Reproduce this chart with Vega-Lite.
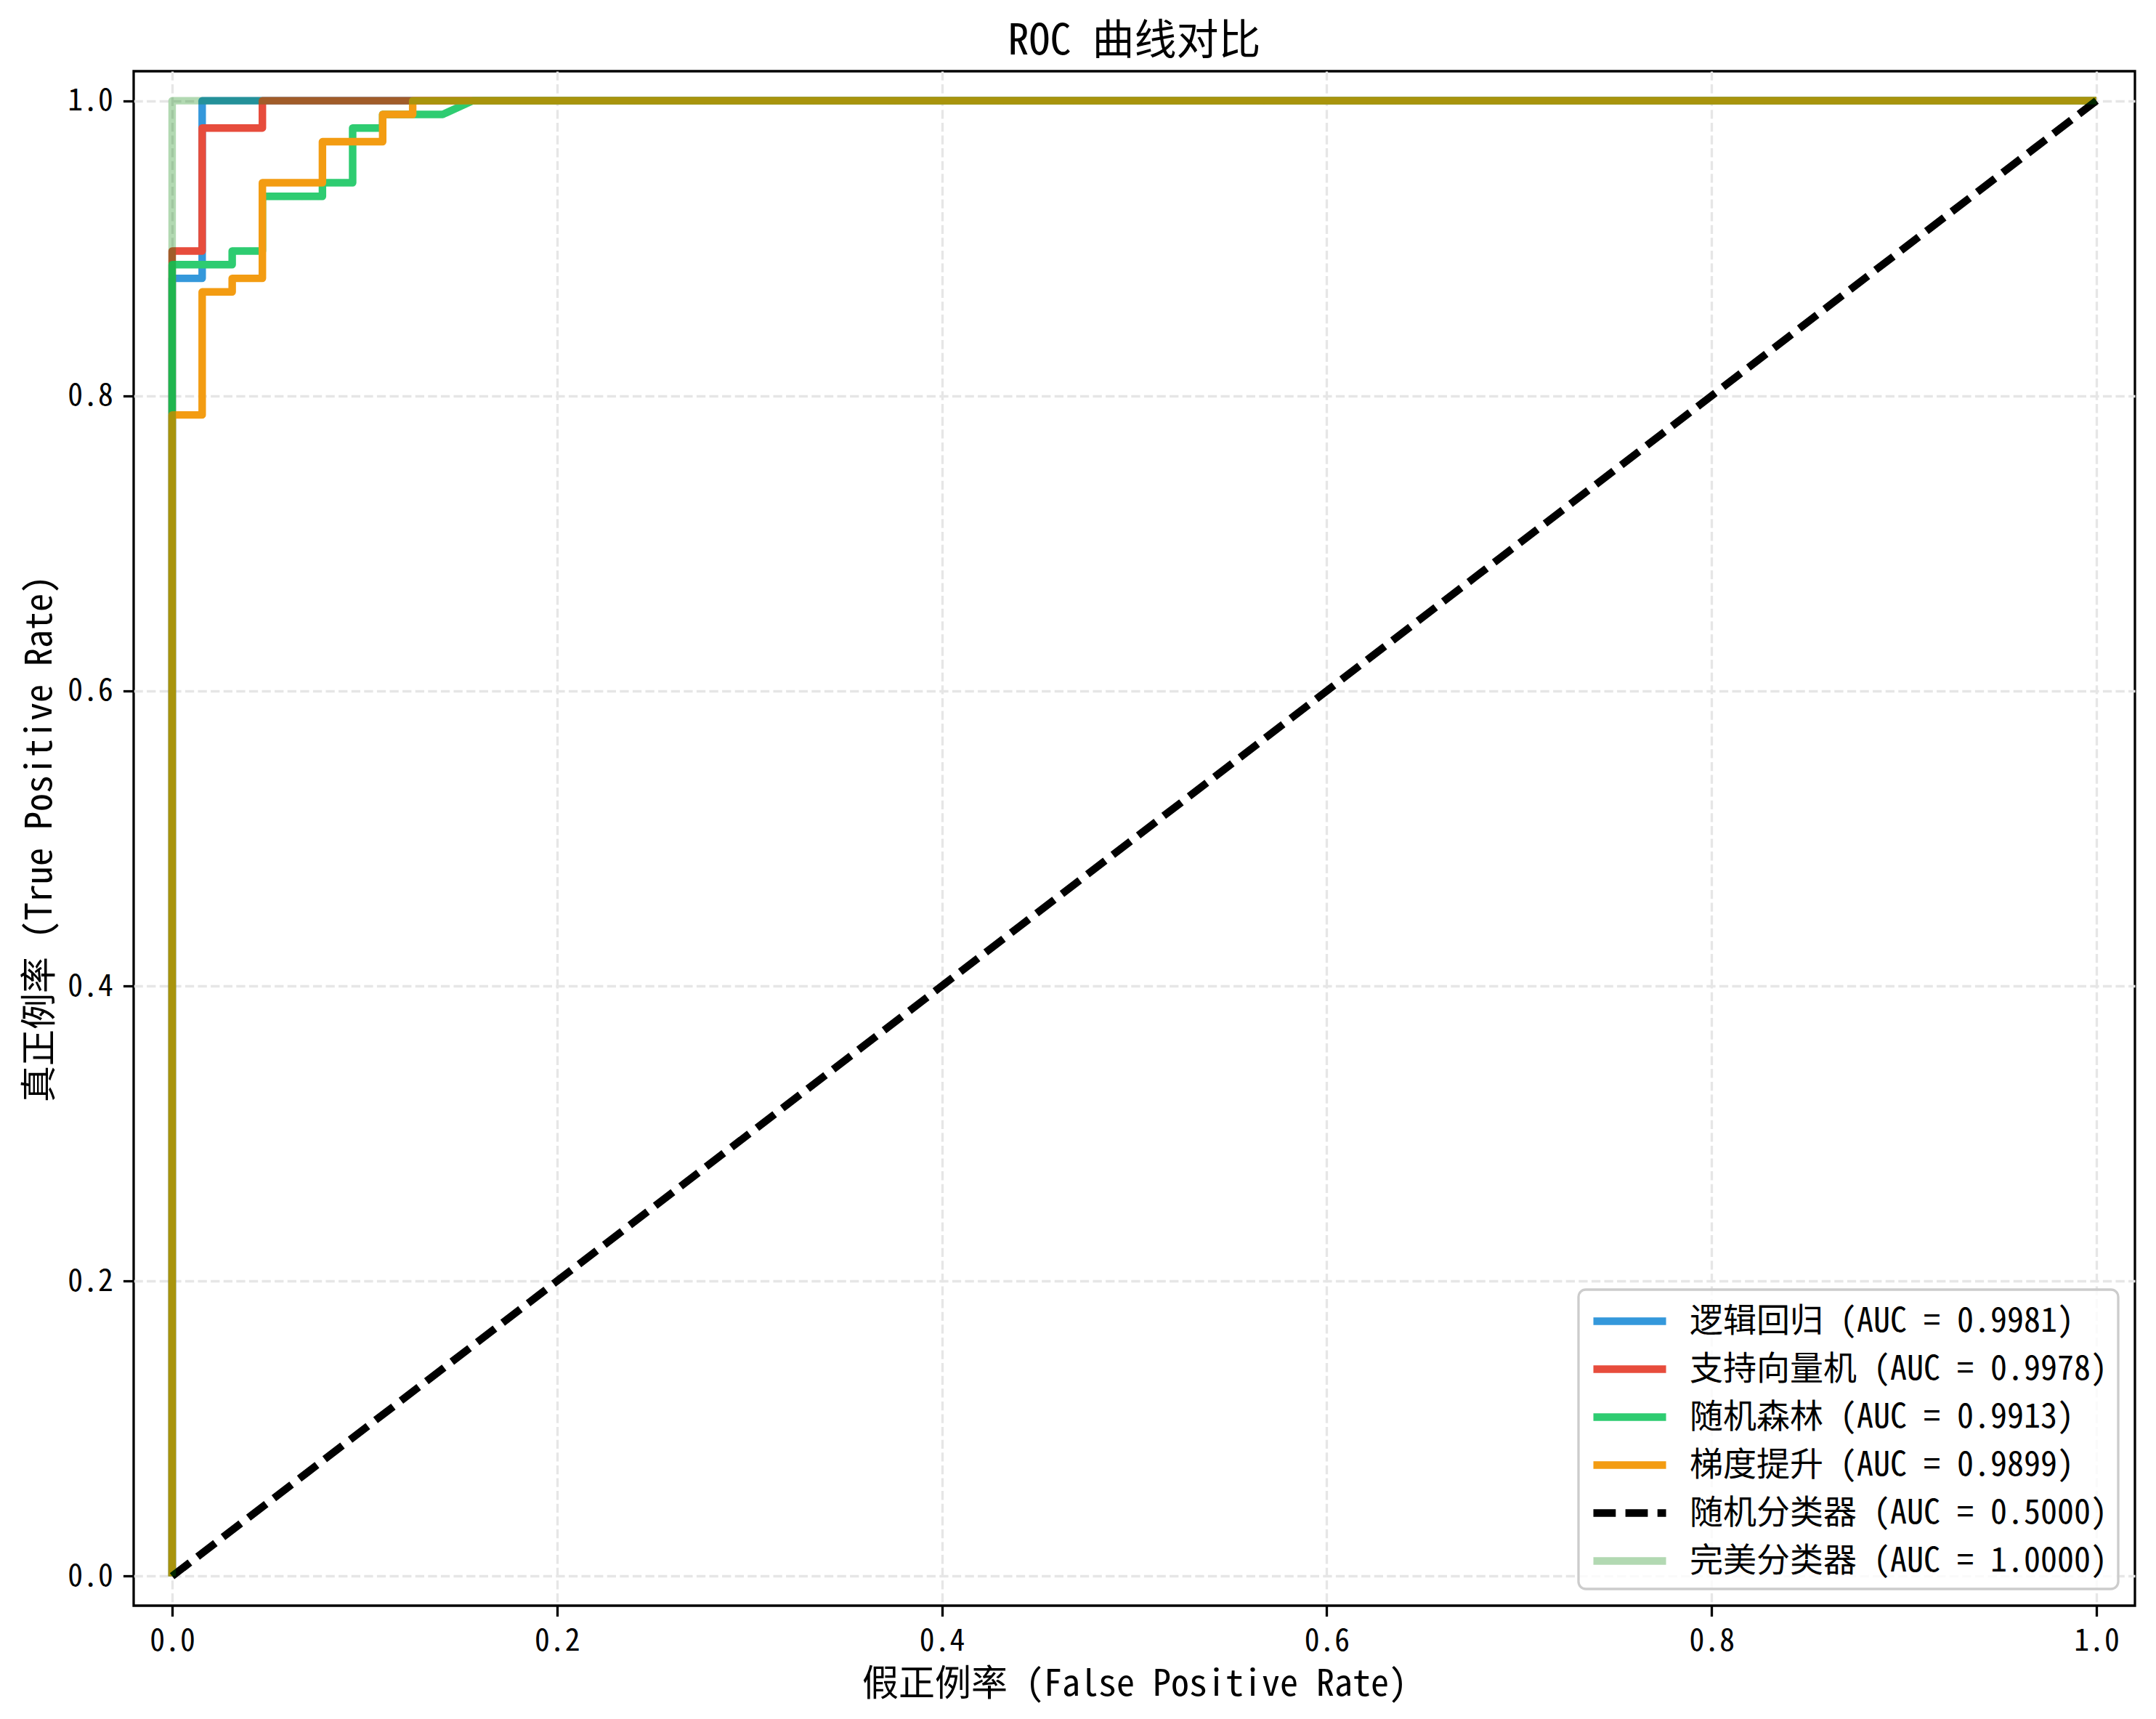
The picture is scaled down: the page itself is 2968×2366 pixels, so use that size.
{
  "$schema": "https://vega.github.io/schema/vega-lite/v6.json",
  "autosize": {"type": "none"},
  "padding": {"left": 184, "top": 98, "right": 29, "bottom": 156},
  "width": 2755,
  "height": 2112,
  "background": "white",
  "title": {
    "text": "ROC 曲线对比",
    "fontSize": 58,
    "fontWeight": "normal",
    "font": "Noto Sans Mono CJK SC, DejaVu Sans Mono, Noto Sans CJK SC",
    "color": "black",
    "anchor": "middle",
    "offset": 11
  },
  "data": {
    "values": [
      {"model": "逻辑回归 (AUC = 0.9981)", "i": 0, "fpr": 0, "tpr": 0},
      {"model": "逻辑回归 (AUC = 0.9981)", "i": 1, "fpr": 0, "tpr": 0.8796},
      {"model": "逻辑回归 (AUC = 0.9981)", "i": 2, "fpr": 0.0156, "tpr": 0.8796},
      {"model": "逻辑回归 (AUC = 0.9981)", "i": 3, "fpr": 0.0156, "tpr": 1},
      {"model": "逻辑回归 (AUC = 0.9981)", "i": 4, "fpr": 1, "tpr": 1},

      {"model": "支持向量机 (AUC = 0.9978)", "i": 0, "fpr": 0, "tpr": 0},
      {"model": "支持向量机 (AUC = 0.9978)", "i": 1, "fpr": 0, "tpr": 0.8981},
      {"model": "支持向量机 (AUC = 0.9978)", "i": 2, "fpr": 0.0156, "tpr": 0.8981},
      {"model": "支持向量机 (AUC = 0.9978)", "i": 3, "fpr": 0.0156, "tpr": 0.9815},
      {"model": "支持向量机 (AUC = 0.9978)", "i": 4, "fpr": 0.0469, "tpr": 0.9815},
      {"model": "支持向量机 (AUC = 0.9978)", "i": 5, "fpr": 0.0469, "tpr": 1},
      {"model": "支持向量机 (AUC = 0.9978)", "i": 6, "fpr": 1, "tpr": 1},

      {"model": "随机森林 (AUC = 0.9913)", "i": 0, "fpr": 0, "tpr": 0},
      {"model": "随机森林 (AUC = 0.9913)", "i": 1, "fpr": 0, "tpr": 0.8889},
      {"model": "随机森林 (AUC = 0.9913)", "i": 2, "fpr": 0.0312, "tpr": 0.8889},
      {"model": "随机森林 (AUC = 0.9913)", "i": 3, "fpr": 0.0312, "tpr": 0.8981},
      {"model": "随机森林 (AUC = 0.9913)", "i": 4, "fpr": 0.0469, "tpr": 0.8981},
      {"model": "随机森林 (AUC = 0.9913)", "i": 5, "fpr": 0.0469, "tpr": 0.9352},
      {"model": "随机森林 (AUC = 0.9913)", "i": 6, "fpr": 0.0781, "tpr": 0.9352},
      {"model": "随机森林 (AUC = 0.9913)", "i": 7, "fpr": 0.0781, "tpr": 0.9444},
      {"model": "随机森林 (AUC = 0.9913)", "i": 8, "fpr": 0.0938, "tpr": 0.9444},
      {"model": "随机森林 (AUC = 0.9913)", "i": 9, "fpr": 0.0938, "tpr": 0.9815},
      {"model": "随机森林 (AUC = 0.9913)", "i": 10, "fpr": 0.1094, "tpr": 0.9815},
      {"model": "随机森林 (AUC = 0.9913)", "i": 11, "fpr": 0.1094, "tpr": 0.9907},
      {"model": "随机森林 (AUC = 0.9913)", "i": 12, "fpr": 0.1406, "tpr": 0.9907},
      {"model": "随机森林 (AUC = 0.9913)", "i": 13, "fpr": 0.1562, "tpr": 1},
      {"model": "随机森林 (AUC = 0.9913)", "i": 14, "fpr": 1, "tpr": 1},

      {"model": "梯度提升 (AUC = 0.9899)", "i": 0, "fpr": 0, "tpr": 0},
      {"model": "梯度提升 (AUC = 0.9899)", "i": 1, "fpr": 0, "tpr": 0.787},
      {"model": "梯度提升 (AUC = 0.9899)", "i": 2, "fpr": 0.0156, "tpr": 0.787},
      {"model": "梯度提升 (AUC = 0.9899)", "i": 3, "fpr": 0.0156, "tpr": 0.8704},
      {"model": "梯度提升 (AUC = 0.9899)", "i": 4, "fpr": 0.0312, "tpr": 0.8704},
      {"model": "梯度提升 (AUC = 0.9899)", "i": 5, "fpr": 0.0312, "tpr": 0.8796},
      {"model": "梯度提升 (AUC = 0.9899)", "i": 6, "fpr": 0.0469, "tpr": 0.8796},
      {"model": "梯度提升 (AUC = 0.9899)", "i": 7, "fpr": 0.0469, "tpr": 0.9444},
      {"model": "梯度提升 (AUC = 0.9899)", "i": 8, "fpr": 0.0781, "tpr": 0.9444},
      {"model": "梯度提升 (AUC = 0.9899)", "i": 9, "fpr": 0.0781, "tpr": 0.9722},
      {"model": "梯度提升 (AUC = 0.9899)", "i": 10, "fpr": 0.1094, "tpr": 0.9722},
      {"model": "梯度提升 (AUC = 0.9899)", "i": 11, "fpr": 0.1094, "tpr": 0.9907},
      {"model": "梯度提升 (AUC = 0.9899)", "i": 12, "fpr": 0.125, "tpr": 0.9907},
      {"model": "梯度提升 (AUC = 0.9899)", "i": 13, "fpr": 0.125, "tpr": 1},
      {"model": "梯度提升 (AUC = 0.9899)", "i": 14, "fpr": 1, "tpr": 1},

      {"model": "随机分类器 (AUC = 0.5000)", "i": 0, "fpr": 0, "tpr": 0},
      {"model": "随机分类器 (AUC = 0.5000)", "i": 1, "fpr": 1, "tpr": 1},

      {"model": "完美分类器 (AUC = 1.0000)", "i": 0, "fpr": 0, "tpr": 0},
      {"model": "完美分类器 (AUC = 1.0000)", "i": 1, "fpr": 0, "tpr": 1},
      {"model": "完美分类器 (AUC = 1.0000)", "i": 2, "fpr": 1, "tpr": 1}
    ]
  },
  "mark": {"type": "line", "interpolate": "linear", "strokeJoin": "round", "strokeCap": "butt"},
  "encoding": {
    "x": {
      "field": "fpr", "type": "quantitative",
      "scale": {"domain": [-0.02, 1.02], "nice": false, "zero": false},
      "axis": {"values": [0, 0.2, 0.4, 0.6, 0.8, 1.0], "format": ".1f", "title": "假正例率 (False Positive Rate)", "titlePadding": 13}
    },
    "y": {
      "field": "tpr", "type": "quantitative",
      "scale": {"domain": [-0.02, 1.02], "nice": false, "zero": false},
      "axis": {"values": [0, 0.2, 0.4, 0.6, 0.8, 1.0], "format": ".1f", "title": "真正例率 (True Positive Rate)", "titlePadding": 12}
    },
    "order": {"field": "i", "type": "quantitative"},
    "color": {
      "field": "model", "type": "nominal",
      "scale": {
        "domain": ["逻辑回归 (AUC = 0.9981)", "支持向量机 (AUC = 0.9978)", "随机森林 (AUC = 0.9913)", "梯度提升 (AUC = 0.9899)", "随机分类器 (AUC = 0.5000)", "完美分类器 (AUC = 1.0000)"],
        "range": ["#3498db", "#e74c3c", "#2ecc71", "#f39c12", "#000000", "rgba(0,128,0,0.3)"]
      },
      "legend": {"title": null}
    },
    "strokeDash": {
      "field": "model", "type": "nominal",
      "scale": {
        "domain": ["逻辑回归 (AUC = 0.9981)", "支持向量机 (AUC = 0.9978)", "随机森林 (AUC = 0.9913)", "梯度提升 (AUC = 0.9899)", "随机分类器 (AUC = 0.5000)", "完美分类器 (AUC = 1.0000)"],
        "range": [[1, 0], [1, 0], [1, 0], [1, 0], [30.8, 13.3], [1, 0]]
      },
      "legend": {"title": null}
    },
    "strokeWidth": {
      "field": "model", "type": "nominal",
      "scale": {
        "domain": ["逻辑回归 (AUC = 0.9981)", "支持向量机 (AUC = 0.9978)", "随机森林 (AUC = 0.9913)", "梯度提升 (AUC = 0.9899)", "随机分类器 (AUC = 0.5000)", "完美分类器 (AUC = 1.0000)"],
        "range": [10.4, 10.4, 10.4, 10.4, 8.3, 8.3]
      },
      "legend": {"title": null}
    }
  },
  "config": {
    "font": "Noto Sans Mono CJK SC, DejaVu Sans Mono, Noto Sans CJK SC",
    "view": {"stroke": "black", "strokeWidth": 3.3},
    "axis": {
      "domain": false,
      "ticks": true,
      "tickColor": "black",
      "tickSize": 14.6,
      "tickWidth": 3.3,
      "labelFont": "Noto Sans Mono CJK SC, DejaVu Sans Mono, Noto Sans CJK SC",
      "labelFontSize": 41.7,
      "labelColor": "black",
      "labelPadding": 14,
      "titleFont": "Noto Sans Mono CJK SC, DejaVu Sans Mono, Noto Sans CJK SC",
      "titleFontSize": 50,
      "titleFontWeight": "normal",
      "titleColor": "black",
      "grid": true,
      "gridColor": "#e6e6e6",
      "gridDash": [12.3, 5.3],
      "gridWidth": 3.3
    },
    "legend": {
      "orient": "bottom-right",
      "offset": 23,
      "padding": 15,
      "strokeColor": "#cccccc",
      "strokeWidth": 3.3,
      "fillColor": "rgba(255,255,255,0.8)",
      "cornerRadius": 10,
      "labelFont": "Noto Sans Mono CJK SC, DejaVu Sans Mono, Noto Sans CJK SC",
      "labelFontSize": 46,
      "labelColor": "black",
      "labelOffset": 81,
      "symbolType": "M-1,0L3.35,0",
      "symbolSize": 2116,
      "rowPadding": 14,
      "labelLimit": 0
    }
  }
}
